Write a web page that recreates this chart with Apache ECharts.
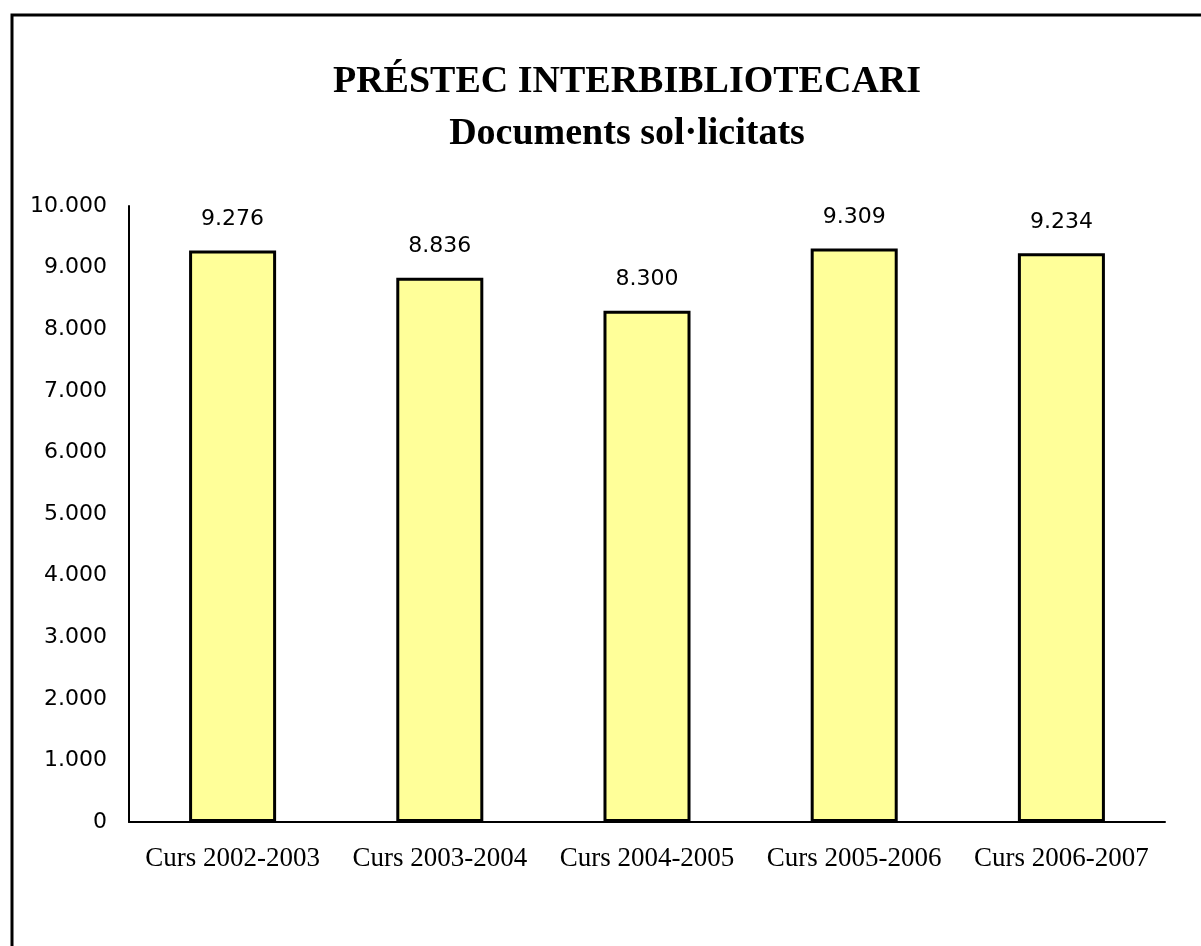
<!DOCTYPE html>
<html>
<head>
<meta charset="utf-8">
<script src="https://cdn.jsdelivr.net/npm/echarts@6/dist/echarts.min.js"></script>
<style>
    html, body { margin: 0; padding: 0; background: #fff; }
    #chart { width: 1201px; height: 946px; }
</style>
</head>
<body>
<div id="chart"></div>
<script>
var categories = ['Curs 2002-2003', 'Curs 2003-2004', 'Curs 2004-2005', 'Curs 2005-2006', 'Curs 2006-2007'];
var values = [9276, 8836, 8300, 9309, 9234];
var titleText = 'PRÉSTEC INTERBIBLIOTECARI';
var subtitleText = 'Documents sol·licitats';

// punt com a separador de milers
function fmt(v) {
    return String(v).replace(/\B(?=(\d{3})+(?!\d))/g, '.');
}

var chart = echarts.init(document.getElementById('chart'));
var option = {
    backgroundColor: '#fff',
    animation: false,
    graphic: [{
        type: 'rect',
        shape: { x: 12, y: 15, width: 1400, height: 1200 },
        style: { fill: 'none', stroke: '#000', lineWidth: 3 }
    }],
    title: [{
        text: titleText,
        left: 622,
        top: 58,
        textAlign: 'center',
        textStyle: {
            fontFamily: 'Liberation Serif',
            fontWeight: 'bold',
            fontSize: 38,
            color: '#000'
        }
    }, {
        text: subtitleText,
        left: 622,
        top: 110,
        textAlign: 'center',
        textStyle: {
            fontFamily: 'Liberation Serif',
            fontWeight: 'bold',
            fontSize: 38,
            color: '#000'
        }
    }],
    grid: {
        left: 129,
        right: 36,
        top: 206,
        bottom: 124
    },
    xAxis: {
        type: 'category',
        data: categories,
        axisLine: { lineStyle: { color: '#000', width: 2 } },
        axisTick: { show: false },
        axisLabel: {
            interval: 0,
            margin: 23,
            fontFamily: 'Liberation Serif',
            fontSize: 27,
            color: '#000'
        }
    },
    yAxis: {
        type: 'value',
        min: 0,
        max: 10000,
        interval: 1000,
        splitLine: { show: false },
        axisTick: { show: false },
        axisLine: { show: true, lineStyle: { color: '#000', width: 2 } },
        axisLabel: {
            margin: 22,
            fontFamily: 'DejaVu Sans',
            fontSize: 22,
            color: '#000',
            formatter: fmt
        }
    },
    series: [{
        type: 'bar',
        data: values,
        barWidth: '42%',
        itemStyle: {
            color: '#FFFF99',
            borderColor: '#000',
            borderWidth: 3
        },
        label: {
            show: true,
            position: 'top',
            distance: 20,
            fontFamily: 'DejaVu Sans',
            fontSize: 22,
            color: '#000',
            formatter: function(p) { return fmt(p.value); }
        }
    }]
};
chart.setOption(option);
</script>
</body>
</html>
